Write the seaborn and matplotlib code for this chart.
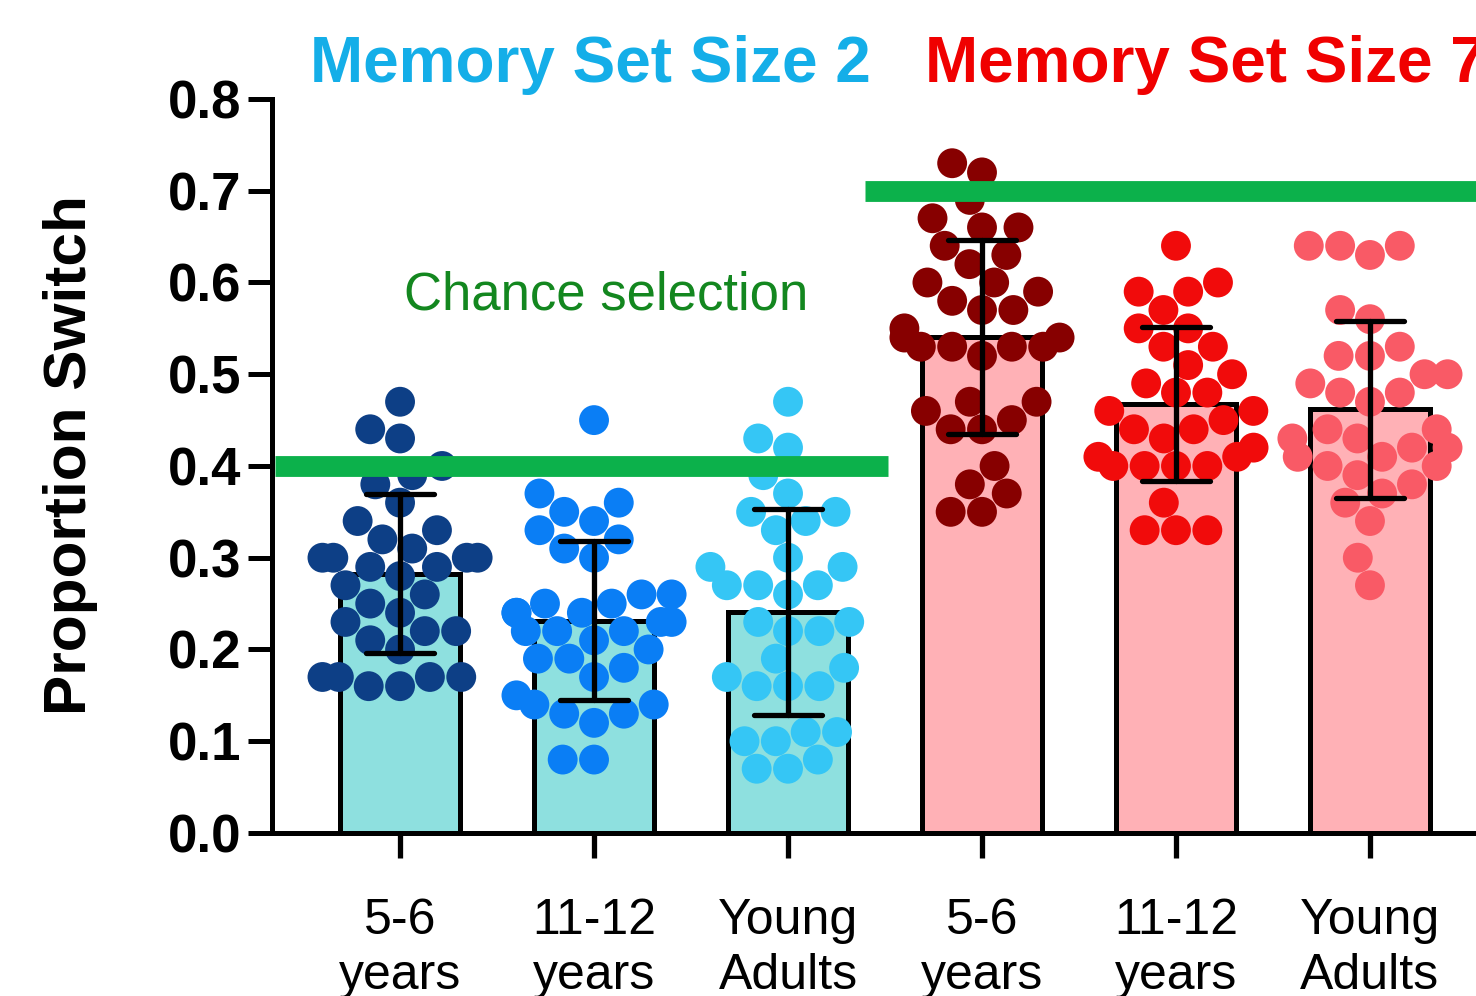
import matplotlib
matplotlib.use('Agg')
import matplotlib.pyplot as plt
import seaborn as sns
import pandas as pd

sns.set_style('ticks', {'axes.edgecolor': 'black', 'xtick.color': 'black',
                        'ytick.color': 'black', 'text.color': 'black',
                        'axes.labelcolor': 'black'})
plt.rcParams['font.family'] = ['Liberation Sans', 'DejaVu Sans']

# proportion of switches per participant
ss2_5_6 = [0.47, 0.44, 0.43, 0.40, 0.39, 0.38, 0.36, 0.34, 0.33, 0.32, 0.31,
           0.30, 0.30, 0.30, 0.30, 0.29, 0.29, 0.28, 0.27, 0.26, 0.25, 0.24,
           0.23, 0.22, 0.22, 0.21, 0.20, 0.17, 0.17, 0.17, 0.17, 0.16, 0.16]
ss2_11_12 = [0.45, 0.37, 0.36, 0.35, 0.34, 0.33, 0.32, 0.31, 0.30, 0.26, 0.26,
             0.25, 0.25, 0.24, 0.24, 0.24, 0.23, 0.23, 0.22, 0.22, 0.22, 0.21,
             0.20, 0.19, 0.19, 0.18, 0.17, 0.15, 0.14, 0.14, 0.13, 0.13, 0.12,
             0.08, 0.08]
ss2_adults = [0.47, 0.43, 0.42, 0.39, 0.37, 0.35, 0.35, 0.34, 0.33, 0.30, 0.29,
              0.29, 0.27, 0.27, 0.27, 0.26, 0.23, 0.23, 0.22, 0.22, 0.19, 0.18,
              0.17, 0.16, 0.16, 0.16, 0.11, 0.11, 0.10, 0.10, 0.08, 0.07, 0.07]
ss7_5_6 = [0.73, 0.72, 0.69, 0.67, 0.66, 0.66, 0.64, 0.63, 0.62, 0.60, 0.60,
           0.59, 0.58, 0.57, 0.57, 0.55, 0.54, 0.54, 0.53, 0.53, 0.53, 0.53,
           0.52, 0.47, 0.47, 0.46, 0.45, 0.44, 0.44, 0.40, 0.38, 0.37, 0.35,
           0.35]
ss7_11_12 = [0.64, 0.60, 0.59, 0.59, 0.57, 0.55, 0.55, 0.53, 0.53, 0.51, 0.50,
             0.49, 0.48, 0.48, 0.46, 0.46, 0.45, 0.44, 0.44, 0.43, 0.42, 0.41,
             0.41, 0.40, 0.40, 0.40, 0.40, 0.36, 0.33, 0.33, 0.33]
ss7_adults = [0.64, 0.64, 0.64, 0.63, 0.57, 0.56, 0.53, 0.52, 0.52, 0.50, 0.50,
              0.49, 0.48, 0.48, 0.47, 0.44, 0.44, 0.43, 0.43, 0.42, 0.42, 0.41,
              0.41, 0.40, 0.40, 0.39, 0.38, 0.37, 0.36, 0.34, 0.30, 0.27]

groups = ['ss2_5_6', 'ss2_11_12', 'ss2_adults', 'ss7_5_6', 'ss7_11_12', 'ss7_adults']
values = [ss2_5_6, ss2_11_12, ss2_adults, ss7_5_6, ss7_11_12, ss7_adults]
age_labels = ['5-6\nyears', '11-12\nyears', 'Young\nAdults']
chance = [0.4, 0.7]

bar_colors = ['#8ee0df'] * 3 + ['#ffb1b6'] * 3
dot_colors = ['#0d3f86', '#0a7ef5', '#35c6f5', '#870000', '#f10b0b', '#f95a66']

df = pd.DataFrame({
    'group': [g for g, v in zip(groups, values) for _ in v],
    'value': [x for v in values for x in v],
})

fig = plt.figure(figsize=(14.76, 9.96), dpi=100)
ax = fig.add_axes([0.1843, 0.1637, 0.8306, 0.7369])

sns.barplot(data=df, x='group', y='value', hue='group', order=groups,
            palette=bar_colors, saturation=1, errorbar=None, width=0.62,
            edgecolor='black', linewidth=3.6, legend=False, ax=ax)
sns.swarmplot(data=df, x='group', y='value', hue='group', order=groups,
              palette=dot_colors, size=21.5, linewidth=0, legend=False, ax=ax)
n_lines = len(ax.lines)
sns.pointplot(data=df, x='group', y='value', order=groups, errorbar='sd',
              color='black', marker='', linestyle='none', capsize=0.35,
              err_kws={'linewidth': 3.8}, ax=ax)
for line in ax.lines[n_lines:]:
    line.set_zorder(6)

# chance-level lines
ax.plot([-0.645, 2.515], [chance[0]] * 2, color='#0cb14b', lw=15,
        solid_capstyle='butt', zorder=5)
ax.plot([2.395, 5.8], [chance[1]] * 2, color='#0cb14b', lw=15,
        solid_capstyle='butt', zorder=5, clip_on=False)
ax.text(1.062, 0.571, 'Chance selection', color='#13871f', fontsize=38,
        ha='center', va='baseline')

ax.text(0.979, 0.8185, 'Memory Set Size 2', color='#14aee8', fontsize=46,
        fontweight='bold', ha='center', va='baseline', clip_on=False)
ax.text(2.706, 0.8185, 'Memory Set Size 7', color='#f00000', fontsize=46,
        fontweight='bold', ha='left', va='baseline', clip_on=False)

ax.set_xlim(-0.66, 5.66)
ax.set_ylim(0, 0.8)
ax.set_yticks([0.0, 0.1, 0.2, 0.3, 0.4, 0.5, 0.6, 0.7, 0.8])
ax.set_yticklabels([f'{t:.1f}' for t in ax.get_yticks()], fontweight='bold',
                   fontsize=38)
ax.set_xticks(range(6))
ax.set_xticklabels(age_labels * 2, fontsize=36, linespacing=1.23)
ax.tick_params(axis='y', length=17, width=3.6, pad=5)
ax.tick_params(axis='x', length=18, width=3.8, pad=29)
ax.set_xlabel('')
ax.set_ylabel('Proportion Switch', fontsize=43.5, fontweight='bold')
ax.yaxis.set_label_coords(-0.142, 0.515)

sns.despine(ax=ax)
for side in ['left', 'bottom']:
    ax.spines[side].set_linewidth(3.6)

fig.savefig('out.png', dpi=100)
